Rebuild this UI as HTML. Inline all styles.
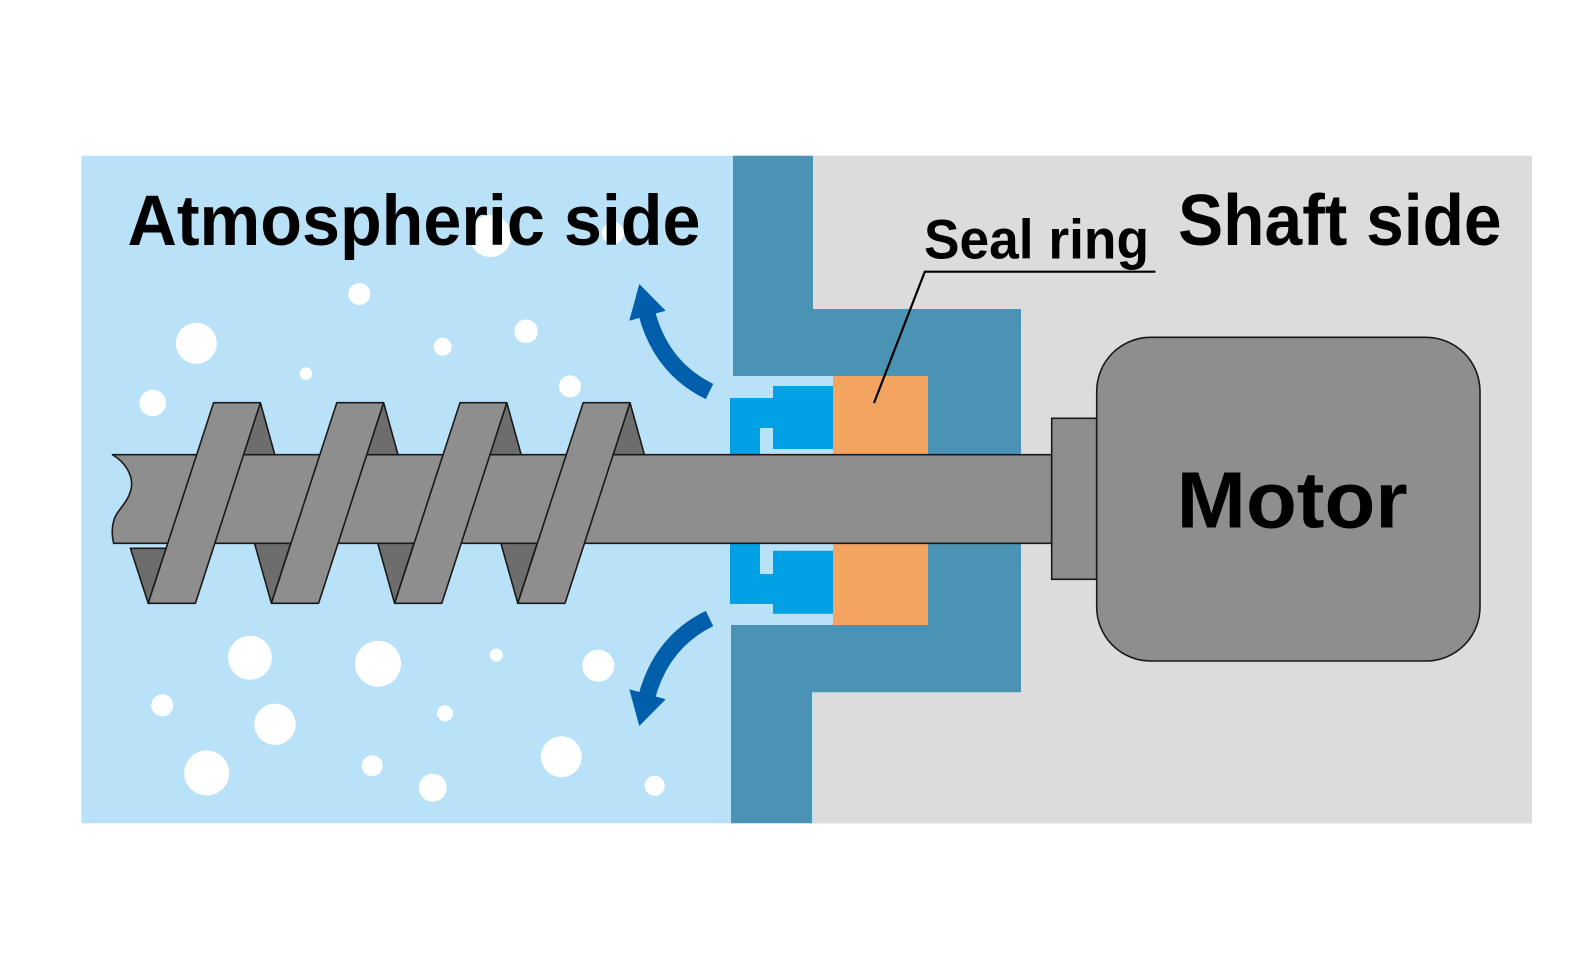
<!DOCTYPE html>
<html>
<head>
<meta charset="utf-8">
<style>
  html, body { margin: 0; padding: 0; background: #ffffff; }
  svg { display: block; }
  text { font-family: "Liberation Sans", "DejaVu Sans", sans-serif; font-weight: bold; fill: #000; }
</style>
</head>
<body>
<svg width="1594" height="980" viewBox="0 0 1594 980" xmlns="http://www.w3.org/2000/svg">
  <rect x="0" y="0" width="1594" height="980" fill="#ffffff"/>

  <!-- background panels -->
  <rect x="81.4" y="155.7" width="1450.6" height="667.6" fill="#b9e2f8"/>
  <rect x="813" y="155.7" width="719" height="667.6" fill="#dcdcdc"/>
  <rect x="730" y="376" width="103" height="249" fill="#b9e2f8"/>

  <!-- housing (teal) -->
  <polygon points="733,155.7 813,155.7 813,309 1021,309 1021,455 928,455 928,376 733,376" fill="#4a93b4"/>
  <polygon points="731,823.3 812,823.3 812,692.3 1021,692.3 1021,543 928,543 928,625 731,625" fill="#4a93b4"/>

  <!-- seal lips (blue) -->
  <polygon points="730,398 773,398 773,386 833,386 833,449 773,449 773,428 760,428 760,455 730,455" fill="#02a1e6"/>
  <polygon points="730,543 760,543 760,574 773,574 773,550.7 833,550.7 833,613.7 773,613.7 773,604 730,604" fill="#02a1e6"/>

  <!-- seal ring (orange) -->
  <rect x="833" y="376" width="95" height="79" fill="#f3a460"/>
  <rect x="833" y="543" width="95" height="82" fill="#f3a460"/>

  <!-- bubbles -->
  <g fill="#ffffff">
    <circle cx="490.3" cy="236" r="21"/>
    <circle cx="613" cy="233" r="11"/>
    <circle cx="359.3" cy="294" r="11"/>
    <circle cx="196.3" cy="343.3" r="20.5"/>
    <circle cx="152.7" cy="403" r="13.3"/>
    <circle cx="306" cy="373.7" r="6.3"/>
    <circle cx="442.7" cy="346.7" r="9"/>
    <circle cx="526" cy="331.3" r="11.8"/>
    <circle cx="570" cy="386.3" r="11"/>
    <circle cx="250" cy="657.7" r="22"/>
    <circle cx="378" cy="663.7" r="23"/>
    <circle cx="496.3" cy="655" r="6.5"/>
    <circle cx="598.3" cy="665.7" r="16"/>
    <circle cx="162.3" cy="705.3" r="11"/>
    <circle cx="275" cy="724.3" r="20.7"/>
    <circle cx="445" cy="713.3" r="8"/>
    <circle cx="206.7" cy="773" r="22.5"/>
    <circle cx="372.3" cy="765.7" r="10.5"/>
    <circle cx="432.7" cy="787.7" r="14"/>
    <circle cx="561.3" cy="756.7" r="20.5"/>
    <circle cx="654.7" cy="785.8" r="10"/>
  </g>

  <!-- screw: dark back flights -->
  <g fill="#6d6d6d" stroke="#1a1a1a" stroke-width="1.6" stroke-linejoin="round">
    <polygon points="260.4,402.7 275,455.5 243,455.5"/>
    <polygon points="383.6,402.7 398.2,455.5 366.2,455.5"/>
    <polygon points="506.8,402.7 521.4,455.5 489.4,455.5"/>
    <polygon points="630,402.7 644.6,455.5 612.6,455.5"/>

    <polygon points="130.4,548.3 148.2,603.3 166.1,548.3"/>
    <polygon points="254.3,542.5 271.4,603.3 291,542.5"/>
    <polygon points="377.5,542.5 394.6,603.3 414.2,542.5"/>
    <polygon points="500.7,542.5 517.8,603.3 537.4,542.5"/>
  </g>

  <!-- shaft -->
  <path d="M112.5 454.7 L1051.7 454.7 L1051.7 543.3 L113.6 543.3 C111 532 112 520 118 512 C124 504 130 497 131.4 487 C133 475 125 462 112.5 454.7 Z"
        fill="#8e8e8e" stroke="#1a1a1a" stroke-width="1.6" stroke-linejoin="round"/>

  <!-- screw: front flights -->
  <g fill="#8e8e8e" stroke="#1a1a1a" stroke-width="1.6" stroke-linejoin="round">
    <polygon points="213.6,402.7 260.4,402.7 195.4,603.3 148.2,603.3"/>
    <polygon points="336.8,402.7 383.6,402.7 318.6,603.3 271.4,603.3"/>
    <polygon points="460,402.7 506.8,402.7 441.8,603.3 394.6,603.3"/>
    <polygon points="583.2,402.7 630,402.7 565,603.3 517.8,603.3"/>
  </g>

  <!-- motor -->
  <rect x="1051.7" y="418.3" width="45" height="161" fill="#8e8e8e" stroke="#1a1a1a" stroke-width="1.6"/>
  <rect x="1096.7" y="337.3" width="383.3" height="323.7" rx="54" ry="54" fill="#8e8e8e" stroke="#1a1a1a" stroke-width="1.6"/>
  <text x="1176.7" y="527.7" font-size="80" textLength="231" lengthAdjust="spacingAndGlyphs">Motor</text>

  <!-- arrows -->
  <g>
    <path d="M709.5 391.5 Q660.9 367.8 646.5 312" fill="none" stroke="#005eab" stroke-width="17"/>
    <polygon points="639.3,284 629.3,320.7 665.7,310.7" fill="#005eab"/>
  </g>
  <g transform="translate(0,1010) scale(1,-1)">
    <path d="M709.5 391.5 Q660.9 367.8 646.5 312" fill="none" stroke="#005eab" stroke-width="17"/>
    <polygon points="639.3,284 629.3,320.7 665.7,310.7" fill="#005eab"/>
  </g>

  <!-- labels -->
  <text x="127.5" y="245" font-size="71" textLength="573" lengthAdjust="spacingAndGlyphs">Atmospheric side</text>
  <text x="1178" y="245" font-size="72" textLength="323.6" lengthAdjust="spacingAndGlyphs">Shaft side</text>
  <text x="924" y="258.3" font-size="56" textLength="225" lengthAdjust="spacingAndGlyphs">Seal ring</text>

  <!-- leader line -->
  <polyline points="1155.5,271.7 924.8,271.7 874,403" fill="none" stroke="#000" stroke-width="2.2"/>
</svg>
</body>
</html>
